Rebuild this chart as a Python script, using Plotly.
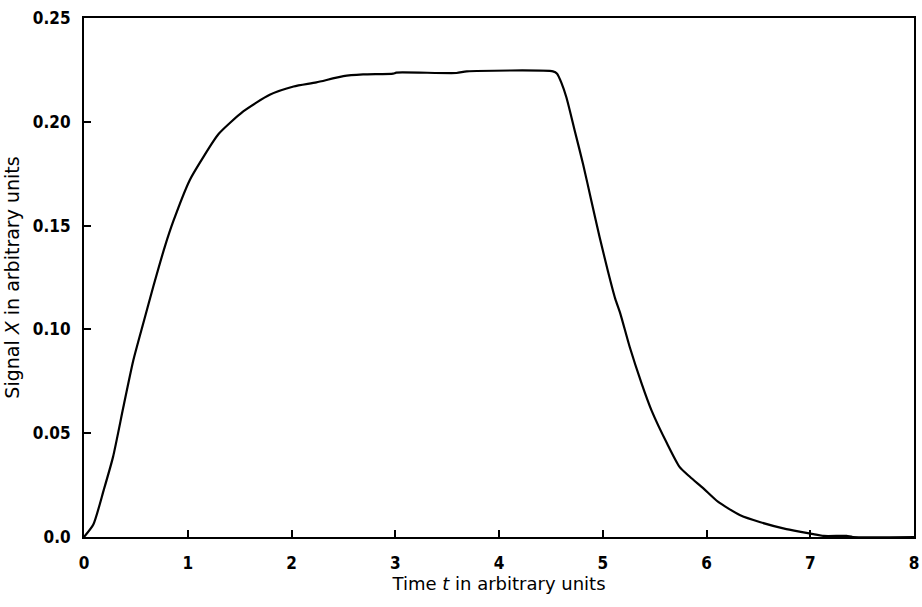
import plotly.graph_objects as go

# Data
time_t = [0, 0.09, 0.19, 0.28, 0.38, 0.475, 0.57, 0.67, 0.78, 0.86, 1.02, 1.15,
          1.295, 1.535, 1.79, 2.02, 2.24, 2.5, 2.69, 2.98, 3.01, 3.59, 3.69, 4.52,
          4.56, 4.60, 4.65, 4.73, 4.81, 4.89, 4.97, 5.05, 5.12, 5.17, 5.26, 5.375,
          5.47, 5.62, 5.74, 5.84, 5.97, 6.11, 6.32, 6.52, 6.77, 7.03, 7.13, 7.35,
          7.41, 8.0]
signal_x = [0, 0.006, 0.0226, 0.0386, 0.0627, 0.085, 0.1027, 0.121, 0.140, 0.152,
            0.172, 0.183, 0.194, 0.205, 0.213, 0.217, 0.219, 0.222, 0.2228, 0.2232,
            0.2237, 0.2235, 0.2243, 0.2243, 0.2232, 0.219, 0.2117, 0.1957, 0.1797,
            0.162, 0.1444, 0.128, 0.1148, 0.1075, 0.0915, 0.0739, 0.061, 0.045,
            0.0338, 0.029, 0.0234, 0.017, 0.0106, 0.0071, 0.0038, 0.0014, 0.0005,
            0.0005, 0.0, 0.0]

x_tickvals = [0, 1, 2, 3, 4, 5, 6, 7, 8]
x_ticktext = ["0", "1", "2", "3", "4", "5", "6", "7", "8"]
y_tickvals = [0.0, 0.05, 0.10, 0.15, 0.20, 0.25]
y_ticktext = ["0.0", "0.05", "0.10", "0.15", "0.20", "0.25"]

fig = go.Figure()
fig.add_trace(go.Scatter(x=time_t, y=signal_x, mode="lines",
                         line=dict(color="black", width=2.2, shape="spline",
                                   smoothing=0.6),
                         showlegend=False, cliponaxis=True, hoverinfo="skip"))

tickfont = dict(family="DejaVu Sans Condensed", size=17, color="black", weight="bold")

fig.update_layout(
    width=922, height=607,
    margin=dict(l=84, r=8, t=18, b=70),
    paper_bgcolor="white", plot_bgcolor="white",
    xaxis=dict(range=[0, 8], tickvals=x_tickvals, ticktext=x_ticktext,
               ticks="inside", ticklen=7, tickwidth=1.5, tickcolor="black",
               showline=True, linecolor="black", linewidth=2, mirror=True,
               showgrid=False, zeroline=False, tickfont=tickfont,
               ticklabelstandoff=10, ticklabeloverflow="allow", automargin=False,
               title=dict(text="Time <i>t</i> in arbitrary units", standoff=4,
                          font=dict(family="DejaVu Sans", size=18, color="black"))),
    yaxis=dict(range=[0, 0.25], tickvals=y_tickvals, ticktext=y_ticktext,
               ticks="inside", ticklen=7, tickwidth=1.5, tickcolor="black",
               showline=True, linecolor="black", linewidth=2, mirror=True,
               showgrid=False, zeroline=False, tickfont=tickfont,
               ticklabelstandoff=8, ticklabeloverflow="allow", automargin=False,
               title=dict(text="Signal <i>X</i> in arbitrary units", standoff=8,
                          font=dict(family="DejaVu Sans", size=19, color="black"))),
)

# remove the browser's default page margin so the figure fills the window exactly
fig.write_html("out.html",
               config={"displayModeBar": False},
               post_script="document.body.style.margin='0';"
                           "document.body.style.overflow='hidden';")
